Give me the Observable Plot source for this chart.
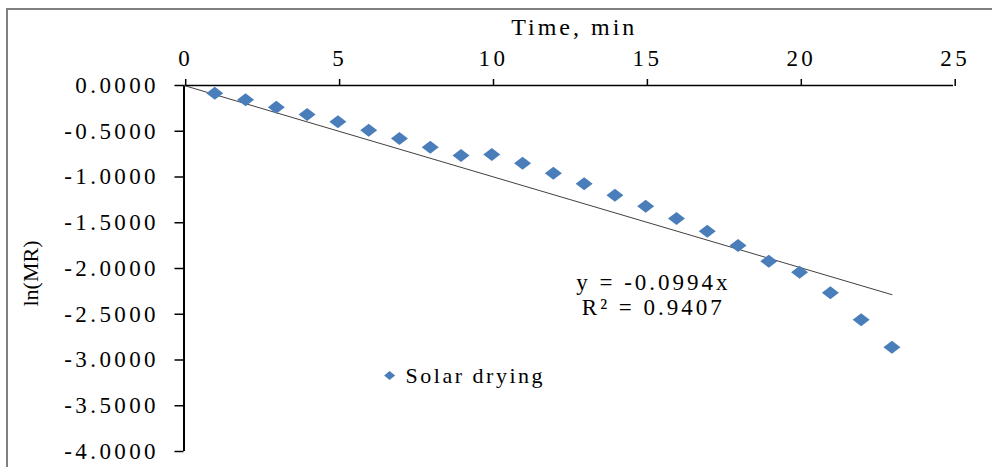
<!DOCTYPE html>
<html><head><meta charset="utf-8">
<script src="https://cdn.jsdelivr.net/npm/d3@7"></script>
<script src="https://cdn.jsdelivr.net/npm/@observablehq/plot@0.6"></script>
<style>
body{margin:0;background:#fff;}
#wrap{position:relative;width:992px;height:467px;overflow:hidden;background:#fff;}
#border{position:absolute;left:6px;top:8px;right:-10px;bottom:-10px;border-left:2px solid #808080;border-top:2px solid #808080;pointer-events:none;}
#wrap svg, #wrap svg text{font-family:"Liberation Serif", serif !important;}
</style></head><body><div id="wrap"><div id="border"></div></div>
<script>
// Data
const time = [1,2,3,4,5,6,7,8,9,10,11,12,13,14,15,16,17,18,19,20,21,22,23];
const lnMR = [-0.084,-0.157,-0.237,-0.317,-0.397,-0.490,-0.580,-0.674,-0.765,-0.754,-0.849,-0.958,-1.075,-1.199,-1.319,-1.454,-1.592,-1.749,-1.920,-2.040,-2.266,-2.561,-2.860];
const seriesName = "Solar drying";
const slope = -0.0994;
const r2 = 0.9407;
const xTicks = [0,5,10,15,20,25];
const yTicks = [0,-0.5,-1,-1.5,-2,-2.5,-3,-3.5,-4];
const xTitle = "Time, min";
const yTitle = "ln(MR)";
const equation = `y = ${slope}x\nR² = ${r2}`;
const equationPos = [{x: 15.2, y: -2.285}];
const legendPos = [{x: 6.68, y: -3.17}];

const trendX = [0, time[time.length - 1]];
const trend = trendX.map(x => ({x, y: slope * x}));

const blue = "#4a7ebb";
const LS = 3.4;
// diamond symbol of fixed half-width w and half-height h (px)
const makeDiamond = (w, h) => ({
  draw(context) {
    context.moveTo(0, -h);
    context.lineTo(w, 0);
    context.lineTo(0, h);
    context.lineTo(-w, 0);
    context.closePath();
  }
});
const diamondBig = makeDiamond(8.5, 6.5);
const diamondSmall = makeDiamond(5.5, 4.5);

const chart = Plot.plot({
  width: 992,
  height: 467,
  marginLeft: 183.5,
  marginRight: 39,
  marginTop: 85,
  marginBottom: 16,
  x: {domain: [0, 25]},
  y: {domain: [-4, 0]},
  style: {fontSize: "23px", letterSpacing: LS + "px", color: "#000", background: "transparent"},
  marks: [
    Plot.axisX(xTicks, {anchor: "top", tickSize: 7, tickPadding: 13, strokeWidth: 1.5, stroke: "#000", fill: "#000", fontSize: 23, dx: LS / 2, tickFormat: d => String(d), label: null}),
    Plot.axisY(yTicks, {anchor: "left", tickSize: 9, tickPadding: 16, strokeWidth: 1.5, stroke: "#000", fill: "#000", fontSize: 23, tickFormat: d => d.toFixed(4), label: null}),
    Plot.ruleY([0], {stroke: "#000", strokeWidth: 1.5}),
    Plot.ruleX([0], {stroke: "#000", strokeWidth: 2}),
    Plot.line(trend, {x: "x", y: "y", stroke: "#404040", strokeWidth: 1}),
    Plot.dot(time, {x: time, y: lnMR, symbol: diamondBig, fill: blue, stroke: "none"}),
    Plot.text([equation], {x: () => equationPos[0].x, y: () => equationPos[0].y, text: d => d, fontSize: 23, textAnchor: "middle", lineAnchor: "middle", lineHeight: 1.1, dx: 1.5, fill: "#000"}),
    Plot.dot(legendPos, {x: "x", y: "y", symbol: diamondSmall, fill: blue, stroke: "none"}),
    Plot.text(legendPos, {x: "x", y: "y", text: () => seriesName, fontSize: 22, textAnchor: "start", lineAnchor: "middle", dx: 16, fill: "#000"}),
    Plot.text([xTitle], {frameAnchor: "top", text: d => d, fontSize: 24, lineAnchor: "middle", dy: -58, dx: 5.5, fill: "#000"}),
    Plot.text([yTitle], {frameAnchor: "left", text: d => d, fontSize: 22, rotate: -90, lineAnchor: "middle", textAnchor: "middle", dx: -153, dy: 5, fill: "#000"})
  ]
});
document.getElementById("wrap").prepend(chart);
const sel = d3.select(chart).selectAll("text");
sel.filter(function() { return this.textContent === yTitle; }).style("letter-spacing", "0px");
sel.filter(function() { return this.textContent === seriesName; }).style("letter-spacing", "2.5px");
sel.filter(function() { return this.textContent === xTitle; }).style("letter-spacing", "3px");
sel.filter(function() { return this.textContent.startsWith("y =") || this.textContent.startsWith("R²"); }).style("letter-spacing", "3px");
</script>
</body></html>
